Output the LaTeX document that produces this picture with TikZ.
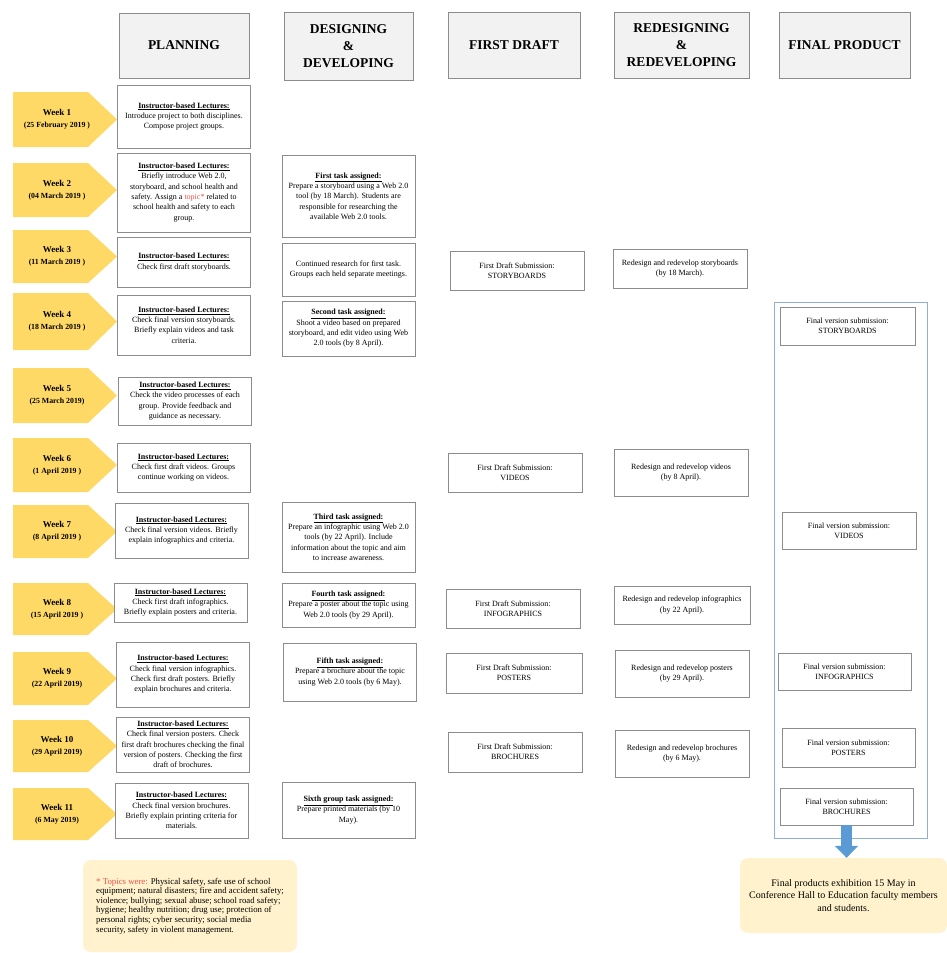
\documentclass[tikz,border=0pt]{standalone}
\usepackage{fontspec}
\setmainfont{Liberation Serif}
\usetikzlibrary{arrows.meta}
\definecolor{weekgold}{HTML}{FFD966}
\definecolor{boxline}{HTML}{8C8C8C}
\definecolor{headfill}{HTML}{F2F2F2}
\definecolor{frameblue}{HTML}{8FAFD6}
\definecolor{arrowblue}{HTML}{5B9BD5}
\definecolor{notefill}{HTML}{FFF2CC}
\definecolor{topicred}{HTML}{F0504A}

\tikzset{
  header/.style={draw=boxline, fill=headfill, align=center, inner sep=1pt,
    font=\fontsize{13.5}{17}\selectfont\bfseries},
  taskbox/.style={draw=boxline, fill=white, align=center, inner sep=1pt,
    minimum width=133, font=\fontsize{8}{10.3}\selectfont},
  weeklabel/.style={align=center, inner sep=0pt, font=\fontsize{9}{12}\selectfont\bfseries},
  notebox/.style={fill=notefill, rounded corners=8pt, inner sep=4pt},
  bigarrow/.style={arrowblue, line width=11pt, -{Triangle[width=23pt,length=12pt]}}
}
\newcommand{\lect}{\underline{\textbf{Instructor-based Lectures:}}}
\newcommand{\task}[1]{\underline{\textbf{#1}}}

\begin{document}
\begin{tikzpicture}[x=1pt, y=-1pt]
  \useasboundingbox (0,0) rectangle (947,953);

  % Column headers
  \node[header, minimum width=130, minimum height=65] (hplan) at (184,45.5) {PLANNING};
  \node[header, minimum width=129, minimum height=68] (hdesign) at (348.5,46) {DESIGNING\\\&\\DEVELOPING};
  \node[header, minimum width=132, minimum height=66] (hdraft) at (514,45) {FIRST DRAFT};
  \node[header, minimum width=135, minimum height=66] (hredesign) at (681.5,45) {REDESIGNING\\\&\\REDEVELOPING};
  \node[header, minimum width=131, minimum height=66] (hfinal) at (844.5,45) {FINAL PRODUCT};

  % Week arrows
  \foreach \n/\top/\bot/\date in {1/92/147/{25 February 2019 },2/163/217/{04 March 2019 },
      3/230/283/{11 March 2019 },4/293/350/{18 March 2019 },5/368/423/{25 March 2019},
      6/438/492/{1 April 2019 },7/505/558/{8 April 2019 },8/583/635/{15 April 2019 },
      9/652/705/{22 April 2019},10/720/772/{29 April 2019},11/788/840/{6 May 2019}}{
    \fill[weekgold] (13,\top) -- (88,\top) -- (117,{(\top+\bot)/2}) -- (88,\bot) -- (13,\bot) -- cycle;
    \node[weeklabel] (week\n) at (57,{(\top+\bot)/2}) {Week \n\\{\fontsize{7.8}{10}\selectfont(\date)}};
  }

  % Planning
  \node[taskbox, minimum height=63] (plan1) at (184,116.5) {\lect\\Introduce project to both disciplines.\\Compose project groups.};
  \node[taskbox, minimum height=79] (plan2) at (184,192.5) {\lect\\Briefly introduce Web 2.0,\\storyboard, and school health and\\safety. Assign a {\color{topicred}topic*} related to\\school health and safety to each\\group.};
  \node[taskbox, minimum height=50] (plan3) at (184,262) {\lect\\Check first draft storyboards.};
  \node[taskbox, minimum height=60] (plan4) at (184,325) {\lect\\Check final version storyboards.\\Briefly explain videos and task\\criteria.};
  \node[taskbox, minimum height=48] (plan5) at (185,401) {\lect\\Check the video processes of each\\group. Provide feedback and\\guidance as necessary.};
  \node[taskbox, minimum height=49] (plan6) at (183.5,467.5) {\lect\\Check first draft videos. Groups\\continue working on videos.};
  \node[taskbox, minimum height=55] (plan7) at (181.5,530.5) {\lect\\Check final version videos. Briefly\\explain infographics and criteria.};
  \node[taskbox, minimum height=39] (plan8) at (180.5,602.5) {\lect\\Check first draft infographics.\\Briefly explain posters and criteria.};
  \node[taskbox, minimum height=65] (plan9) at (183,674.5) {\lect\\Check final version infographics.\\Check first draft posters. Briefly\\explain brochures and criteria.};
  \node[taskbox, minimum height=55] (plan10) at (183,744.5) {\lect\\Check final version posters. Check\\first draft brochures checking the final\\version of posters. Checking the first\\draft of brochures.};
  \node[taskbox, minimum height=55] (plan11) at (181.5,810.5) {\lect\\Check final version brochures.\\Briefly explain printing criteria for\\materials.};

  % Designing & developing
  \node[taskbox, minimum height=82] (design1) at (348.5,196) {\task{First task assigned:}\\Prepare a storyboard using a Web 2.0\\tool (by 18 March). Students are\\responsible for researching the\\available Web 2.0 tools.};
  \node[taskbox, minimum height=53] (design2) at (348.5,269.5) {Continued research for first task.\\Groups each held separate meetings.};
  \node[taskbox, minimum height=55] (design3) at (348.5,328.5) {\task{Second task assigned:}\\Shoot a video based on prepared\\storyboard, and edit video using Web\\2.0 tools (by 8 April).};
  \node[taskbox, minimum height=70] (design4) at (348.5,537) {\task{Third task assigned:}\\Prepare an infographic using Web 2.0\\tools (by 22 April). Include\\information about the topic and aim\\to increase awareness.};
  \node[taskbox, minimum height=44] (design5) at (348.5,605) {\task{Fourth task assigned:}\\Prepare a poster about the topic using\\Web 2.0 tools (by 29 April).};
  \node[taskbox, minimum height=58] (design6) at (350,672) {\task{Fifth task assigned:}\\Prepare a brochure about the topic\\using Web 2.0 tools (by 6 May).};
  \node[taskbox, minimum height=56] (design7) at (348.5,810) {\task{Sixth group task assigned:}\\Prepare printed materials (by 10\\May).};

  % First draft
  \node[taskbox, minimum width=134, minimum height=39] (draft1) at (517,270.5) {First Draft Submission:\\STORYBOARDS};
  \node[taskbox, minimum width=134, minimum height=39] (draft2) at (515,472.5) {First Draft Submission:\\VIDEOS};
  \node[taskbox, minimum width=134, minimum height=39] (draft3) at (513,608.5) {First Draft Submission:\\INFOGRAPHICS};
  \node[taskbox, minimum width=136, minimum height=40] (draft4) at (514,673) {First Draft Submission:\\POSTERS};
  \node[taskbox, minimum width=134, minimum height=40] (draft5) at (515,752) {First Draft Submission:\\BROCHURES};

  % Redesigning & redeveloping
  \node[taskbox, minimum width=134, minimum height=39] (redo1) at (680,268.5) {Redesign and redevelop storyboards\\(by 18 March).};
  \node[taskbox, minimum width=134, minimum height=47] (redo2) at (681,472.5) {Redesign and redevelop videos\\(by 8 April).};
  \node[taskbox, minimum width=136, minimum height=38] (redo3) at (682,605) {Redesign and redevelop infographics\\(by 22 April).};
  \node[taskbox, minimum width=134, minimum height=47] (redo4) at (682,673.5) {Redesign and redevelop posters\\(by 29 April).};
  \node[taskbox, minimum width=134, minimum height=47] (redo5) at (682,753.5) {Redesign and redevelop brochures\\(by 6 May).};

  % Final product
  \node[draw=frameblue, line width=1pt, minimum width=153, minimum height=536, inner sep=0pt] (finalframe) at (850.5,570) {};
  \node[taskbox, minimum width=135, minimum height=38] (final1) at (847.5,326) {Final version submission:\\STORYBOARDS};
  \node[taskbox, minimum width=134, minimum height=37] (final2) at (849,530.5) {Final version submission:\\VIDEOS};
  \node[taskbox, minimum width=133, minimum height=37] (final3) at (844.5,671.5) {Final version submission:\\INFOGRAPHICS};
  \node[taskbox, minimum width=133, minimum height=39] (final4) at (848.5,747.5) {Final version submission:\\POSTERS};
  \node[taskbox, minimum width=133, minimum height=37] (final5) at (846.5,806.5) {Final version submission:\\BROCHURES};

  % Notes
  \node[notebox, minimum width=207, minimum height=75, align=center, font=\fontsize{10}{12.5}\selectfont] (exhibit) at (843.5,895.5)
    {Final products exhibition 15 May in\\Conference Hall to Education faculty members\\and students.};
  \node[notebox, minimum width=214, minimum height=92, align=left, font=\fontsize{8.8}{9.6}\selectfont] (topics) at (190,906)
    {{\color{topicred}* Topics were:} Physical safety, safe use of school\\equipment; natural disasters; fire and accident safety;\\violence; bullying; sexual abuse; school road safety;\\hygiene; healthy nutrition; drug use; protection of\\personal rights; cyber security; social media\\security, safety in violent management.};

  % Arrow to the exhibition
  \draw[bigarrow] (final5.south) -- (final5.south |- exhibit.north);
\end{tikzpicture}
\end{document}
